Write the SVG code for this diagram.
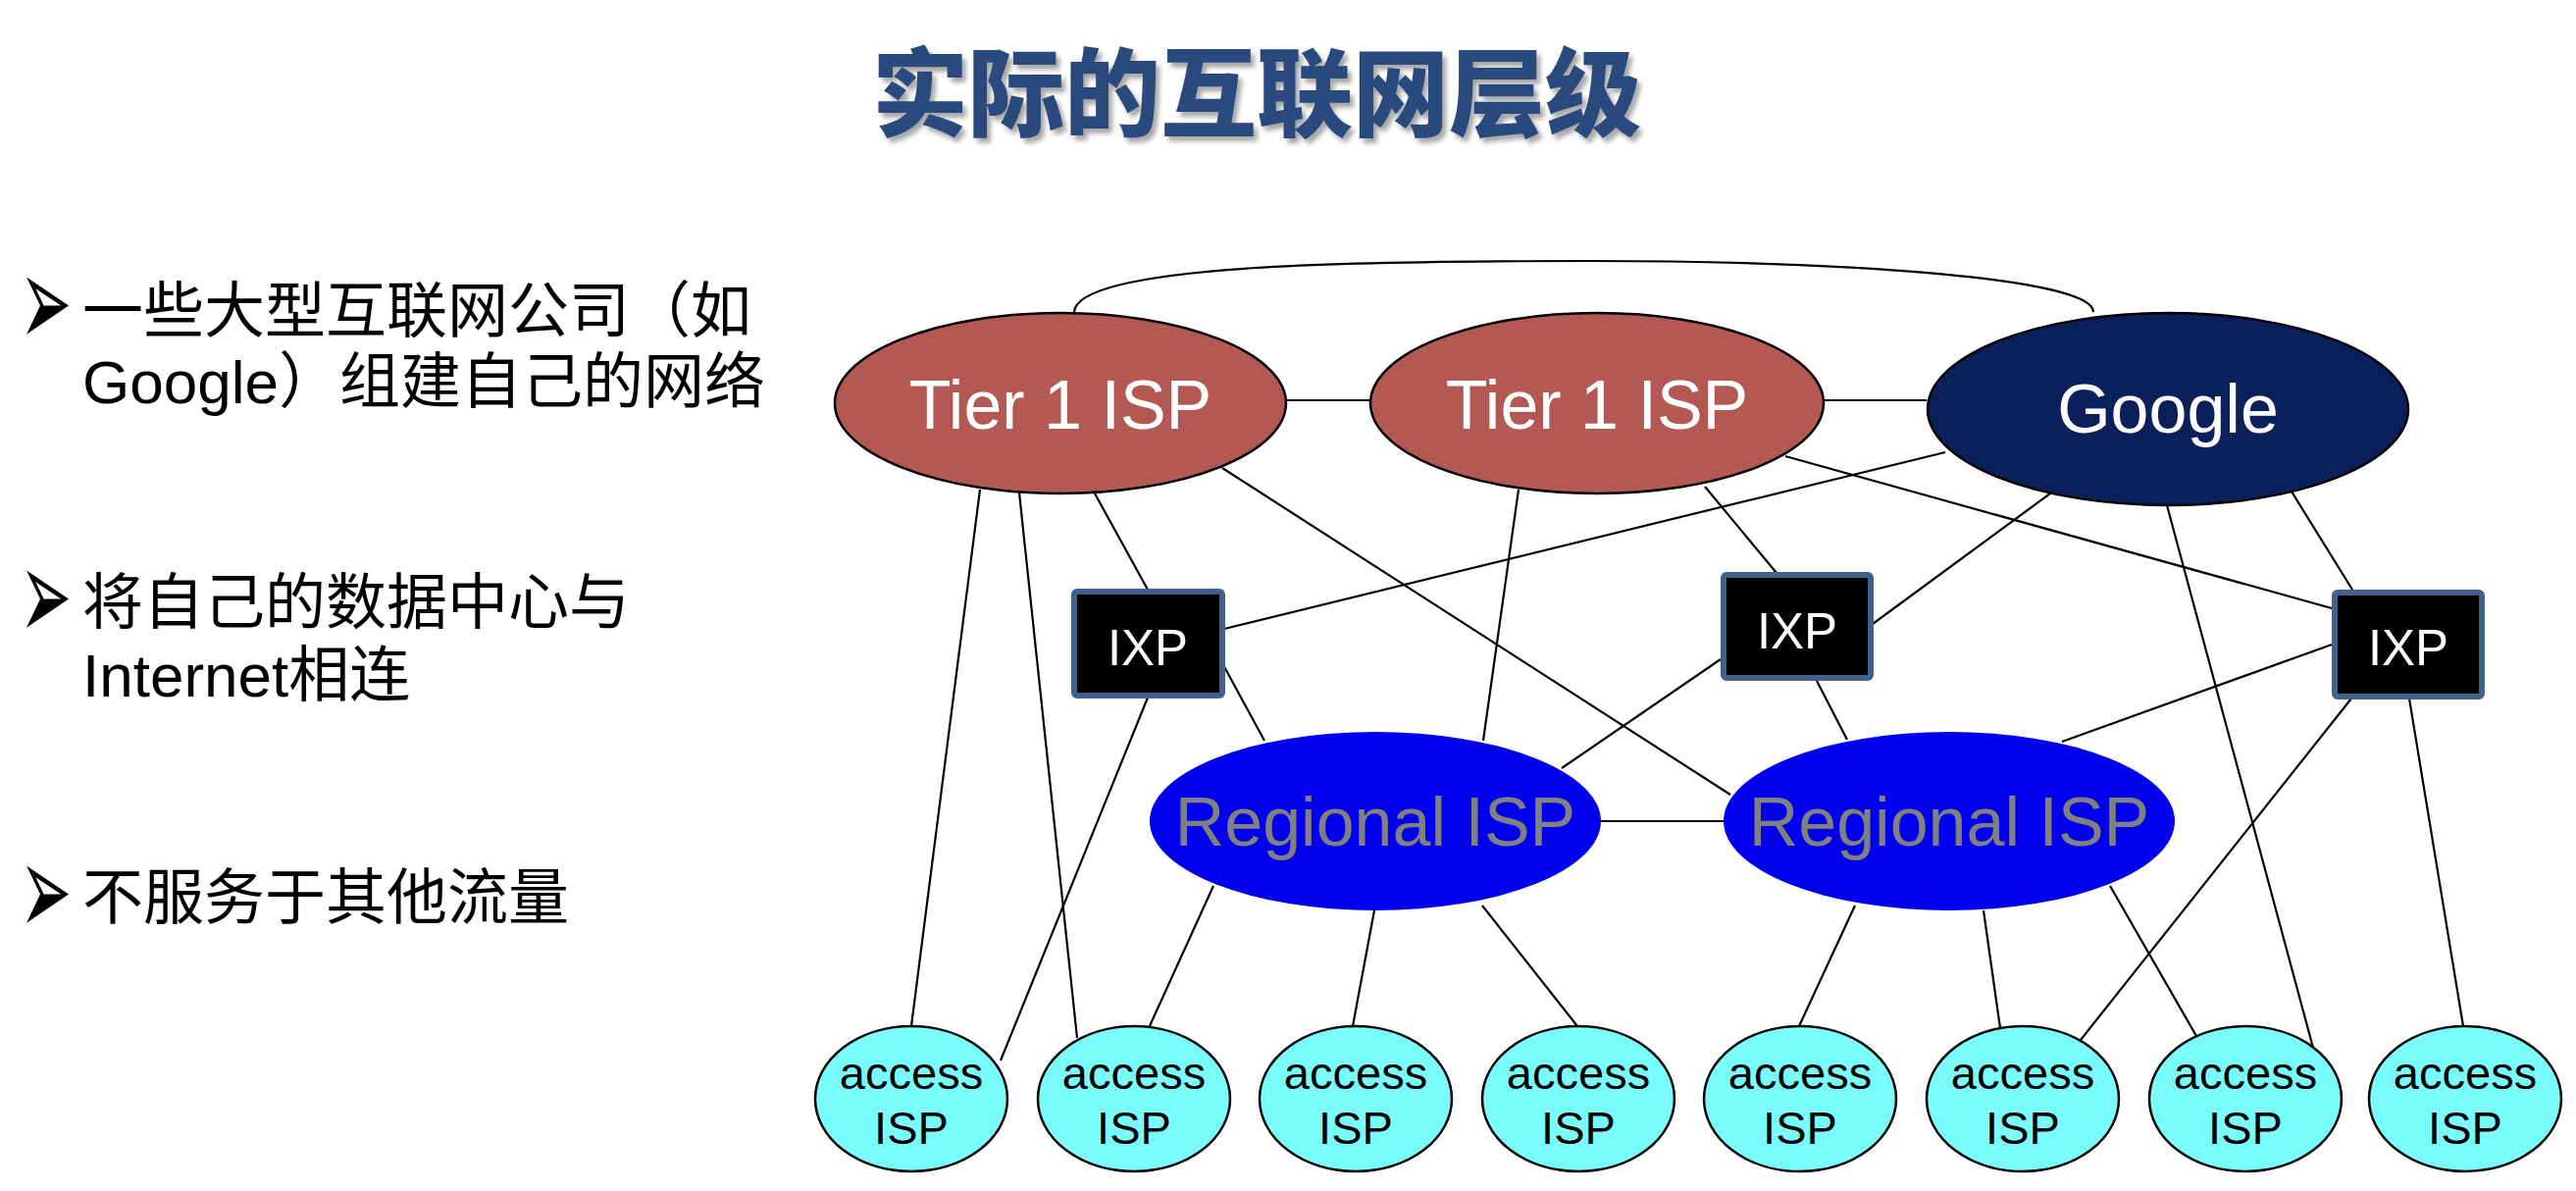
<svg xmlns="http://www.w3.org/2000/svg" width="2626" height="1214" viewBox="0 0 2626 1214">
<defs>
<filter id="tshadow" x="-5%" y="-20%" width="115%" height="150%">
<feGaussianBlur in="SourceAlpha" stdDeviation="2.5"/>
<feOffset dx="4" dy="5" result="b"/>
<feComponentTransfer><feFuncA type="linear" slope="0.35"/></feComponentTransfer>
<feMerge><feMergeNode/><feMergeNode in="SourceGraphic"/></feMerge>
</filter>
</defs>
<style>
.title{font-family:"Noto Sans CJK SC","Liberation Sans",sans-serif;font-weight:900;font-size:98px;fill:#2A4A7C}
.bul{font-family:"Liberation Sans","Noto Sans CJK SC",sans-serif;font-size:62px;fill:#000}
.arr{font-family:"DejaVu Sans",sans-serif;font-size:88px;fill:#000}
.lbl{font-family:"Liberation Sans",Arial,sans-serif;text-anchor:middle}
.t1{fill:#B35853;stroke:#000;stroke-width:2.5}
.goog{fill:#0B1F5B;stroke:#000;stroke-width:2.5}
.reg{fill:#0000EE}
.acc{fill:#7BFCFC;stroke:#000;stroke-width:2.5}
.ixp{fill:#000;stroke:#41608F;stroke-width:6}
.wt{fill:#fff;font-size:70px}
.gt{fill:#808080;font-size:70px}
.bt{fill:#000;font-size:47px}
.it{fill:#fff;font-size:51px}
.c line,.c path{stroke:#000;stroke-width:2.2;fill:none}
</style>
<rect width="2626" height="1214" fill="#fff"/>
<g id="title"><text class="title" x="1281" y="131" text-anchor="middle" filter="url(#tshadow)">实际的互联网层级</text></g>
<g id="bullets">
<text class="arr" transform="translate(20,353) scale(0.72,1.5)">➢</text>
<text class="bul" x="84" y="339">一些大型互联网公司（如</text>
<text class="bul" x="84" y="411">Google）组建自己的网络</text>
<text class="arr" transform="translate(20,652) scale(0.72,1.5)">➢</text>
<text class="bul" x="84" y="636">将自己的数据中心与</text>
<text class="bul" x="84" y="710">Internet相连</text>
<text class="arr" transform="translate(20,953) scale(0.72,1.5)">➢</text>
<text class="bul" x="84" y="937">不服务于其他流量</text>
</g>
<g id="connectors" class="c">
<path d="M1095,318 C1098,268 1400,266 1620,266 C1900,266 2134,285 2134,318"/>
<line x1="1311" y1="408" x2="1397" y2="408"/>
<line x1="1859" y1="408" x2="1964" y2="408"/>
<line x1="999" y1="499" x2="929" y2="1046"/>
<line x1="1039" y1="502" x2="1098" y2="1058"/>
<line x1="1116" y1="503" x2="1170" y2="601"/>
<line x1="1246" y1="477" x2="1764" y2="810"/>
<line x1="1248" y1="641" x2="1983" y2="461"/>
<line x1="1245" y1="674" x2="1289" y2="755"/>
<line x1="1170" y1="711" x2="1020" y2="1081"/>
<line x1="1548" y1="499" x2="1512" y2="755"/>
<line x1="1738" y1="496" x2="1811" y2="584"/>
<line x1="1820" y1="465" x2="2377" y2="620"/>
<line x1="2090" y1="503" x2="1909" y2="636"/>
<line x1="2209" y1="515" x2="2358" y2="1068"/>
<line x1="2336" y1="501" x2="2398" y2="601"/>
<line x1="1754" y1="672" x2="1592" y2="783"/>
<line x1="1851" y1="692" x2="1883" y2="754"/>
<line x1="2377" y1="657" x2="2102" y2="756"/>
<line x1="2397" y1="712" x2="2121" y2="1060"/>
<line x1="2456" y1="712" x2="2511" y2="1046"/>
<line x1="1632" y1="837" x2="1757" y2="837"/>
<line x1="1237" y1="903" x2="1171" y2="1048"/>
<line x1="1401" y1="928" x2="1379" y2="1046"/>
<line x1="1511" y1="923" x2="1608" y2="1046"/>
<line x1="1891" y1="923" x2="1834" y2="1046"/>
<line x1="2022" y1="928" x2="2039" y2="1048"/>
<line x1="2151" y1="903" x2="2239" y2="1056"/>
</g>
<g id="tier1-left"><ellipse class="t1" cx="1081" cy="411" rx="230" ry="92"/><text class="lbl wt" x="1081" y="437">Tier 1 ISP</text></g>
<g id="tier1-mid"><ellipse class="t1" cx="1628" cy="411" rx="231" ry="92"/><text class="lbl wt" x="1628" y="437">Tier 1 ISP</text></g>
<g id="google"><ellipse class="goog" cx="2210" cy="417" rx="245" ry="98"/><text class="lbl wt" x="2210" y="441">Google</text></g>
<g id="ixp1"><rect class="ixp" x="1095" y="603" width="151" height="106" rx="3"/><text class="lbl it" x="1170" y="678">IXP</text></g>
<g id="ixp2"><rect class="ixp" x="1757" y="586" width="150" height="105" rx="3"/><text class="lbl it" x="1832" y="661">IXP</text></g>
<g id="ixp3"><rect class="ixp" x="2380" y="604" width="150" height="106" rx="3"/><text class="lbl it" x="2455" y="678">IXP</text></g>
<g id="regional1"><ellipse class="reg" cx="1402" cy="837" rx="230" ry="91"/><text class="lbl gt" x="1402" y="862">Regional ISP</text></g>
<g id="regional2"><ellipse class="reg" cx="1987" cy="837" rx="230" ry="91"/><text class="lbl gt" x="1987" y="862">Regional ISP</text></g>
<g id="access1"><ellipse class="acc" cx="929" cy="1120" rx="98" ry="74"/><text class="lbl bt" x="929" y="1110">access</text><text class="lbl bt" x="929" y="1166">ISP</text></g>
<g id="access2"><ellipse class="acc" cx="1156" cy="1120" rx="98" ry="74"/><text class="lbl bt" x="1156" y="1110">access</text><text class="lbl bt" x="1156" y="1166">ISP</text></g>
<g id="access3"><ellipse class="acc" cx="1382" cy="1120" rx="98" ry="74"/><text class="lbl bt" x="1382" y="1110">access</text><text class="lbl bt" x="1382" y="1166">ISP</text></g>
<g id="access4"><ellipse class="acc" cx="1609" cy="1120" rx="98" ry="74"/><text class="lbl bt" x="1609" y="1110">access</text><text class="lbl bt" x="1609" y="1166">ISP</text></g>
<g id="access5"><ellipse class="acc" cx="1835" cy="1120" rx="98" ry="74"/><text class="lbl bt" x="1835" y="1110">access</text><text class="lbl bt" x="1835" y="1166">ISP</text></g>
<g id="access6"><ellipse class="acc" cx="2062" cy="1120" rx="98" ry="74"/><text class="lbl bt" x="2062" y="1110">access</text><text class="lbl bt" x="2062" y="1166">ISP</text></g>
<g id="access7"><ellipse class="acc" cx="2289" cy="1120" rx="98" ry="74"/><text class="lbl bt" x="2289" y="1110">access</text><text class="lbl bt" x="2289" y="1166">ISP</text></g>
<g id="access8"><ellipse class="acc" cx="2513" cy="1120" rx="98" ry="74"/><text class="lbl bt" x="2513" y="1110">access</text><text class="lbl bt" x="2513" y="1166">ISP</text></g>
</svg>
